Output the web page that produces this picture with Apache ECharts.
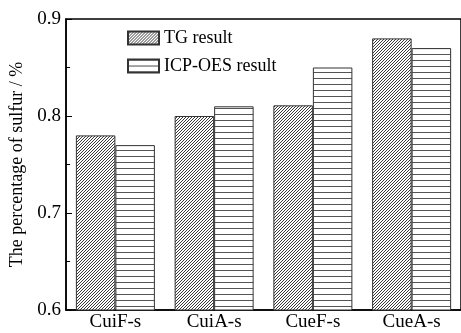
<!DOCTYPE html>
<html>
<head>
<meta charset="utf-8">
<script src="https://cdn.jsdelivr.net/npm/echarts@6/dist/echarts.min.js"></script>
<style>html,body{margin:0;padding:0;background:#fff}#c{width:461px;height:333px}</style>
</head>
<body>
<div id="c"></div>
<script>
const categories = ['CuiF-s', 'CuiA-s', 'CueF-s', 'CueA-s'];
const tgValues = [0.780, 0.800, 0.811, 0.880];
const icpValues = [0.770, 0.810, 0.850, 0.870];
const seriesNames = ['TG result', 'ICP-OES result'];

function diagPattern() {
  const c = document.createElement('canvas');
  c.width = 3; c.height = 3;
  const g = c.getContext('2d');
  g.fillStyle = '#fff'; g.fillRect(0, 0, 3, 3);
  g.strokeStyle = '#222'; g.lineWidth = 0.9;
  g.beginPath();
  g.moveTo(-1, 4); g.lineTo(4, -1);
  g.moveTo(-1, 1); g.lineTo(1, -1);
  g.moveTo(2, 4); g.lineTo(4, 2);
  g.stroke();
  return c;
}
function horizPattern() {
  const c = document.createElement('canvas');
  c.width = 4; c.height = 6;
  const g = c.getContext('2d');
  g.fillStyle = '#fff'; g.fillRect(0, 0, 4, 6);
  g.fillStyle = '#555'; g.fillRect(0, 0, 4, 1);
  return c;
}

const font = "'Liberation Serif', 'Times New Roman', serif";
const chart = echarts.init(document.getElementById('c'), null, {renderer: 'canvas'});
chart.setOption({
  animation: false,
  textStyle: {fontFamily: font, color: '#000'},
  grid: {left: 66, top: 19, bottom: 23, width: 400, show: true, borderColor: '#000', borderWidth: 1.5, backgroundColor: 'transparent'},
  legend: {
    orient: 'vertical', left: 127, top: 29, padding: 0, itemWidth: 31, itemHeight: 13, itemGap: 10,
    icon: 'rect',
    textStyle: {fontFamily: font, fontSize: 18, color: '#000'},
    data: seriesNames
  },
  xAxis: {
    type: 'category', data: categories,
    axisLine: {lineStyle: {color: '#000', width: 1.5}},
    axisTick: {show: false},
    axisLabel: {fontFamily: font, fontSize: 19, color: '#000', margin: 3}
  },
  yAxis: {
    type: 'value', min: 0.6, max: 0.9, interval: 0.1,
    name: 'The percentage of sulfur / %', nameLocation: 'middle', nameGap: 37,
    nameTextStyle: {fontFamily: font, fontSize: 18, color: '#000'},
    axisLine: {show: true, lineStyle: {color: '#000', width: 1.5}},
    axisTick: {show: true, inside: true, length: 6, lineStyle: {color: '#000'}},
    minorTick: {show: true, splitNumber: 2, length: 4, lineStyle: {color: '#000'}},
    splitLine: {show: false},
    axisLabel: {fontFamily: font, fontSize: 19, color: '#000', margin: 5, formatter: v => v.toFixed(1)}
  },
  series: [
    {name: seriesNames[0], type: 'bar', data: tgValues, barGap: '0%', barCategoryGap: '20%',
     itemStyle: {color: {image: diagPattern(), repeat: 'repeat'}, borderColor: '#333', borderWidth: 1}},
    {name: seriesNames[1], type: 'bar', data: icpValues,
     itemStyle: {color: {image: horizPattern(), repeat: 'repeat'}, borderColor: '#333', borderWidth: 1}}
  ]
});
</script>
</body>
</html>
